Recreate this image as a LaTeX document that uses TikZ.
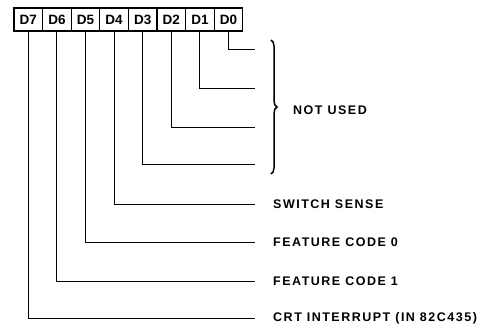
\documentclass[tikz,border=0pt]{standalone}
\usepackage{fontspec}
\setmainfont{Liberation Sans}
\newfontfamily\lblfont[LetterSpace=12]{Liberation Sans}
\usetikzlibrary{positioning,decorations.pathreplacing}

\begin{document}
\begin{tikzpicture}[
    x=1pt,y=-1pt,
    bit/.style={rectangle,draw,line width=1.2pt,minimum width=28.6pt,minimum height=23pt,inner sep=0pt,outer sep=0pt,font=\fontsize{13.5}{15}\selectfont\bfseries},
    wire/.style={line width=0.9pt},
    lbl/.style={inner sep=0pt,anchor=west,font=\fontsize{12.5}{14}\selectfont\lblfont\bfseries},
    curly/.style={line width=1.5pt,decorate,decoration={brace,amplitude=6pt}}
]
    \useasboundingbox (0,0) rectangle (488,328);

    \node[bit] (d7) at (28.3,19.5) {D7};
    \node[bit,right=0pt of d7] (d6) {D6};
    \node[bit,right=0pt of d6] (d5) {D5};
    \node[bit,right=0pt of d5] (d4) {D4};
    \node[bit,right=0pt of d4] (d3) {D3};
    \node[bit,right=0pt of d3] (d2) {D2};
    \node[bit,right=0pt of d2] (d1) {D1};
    \node[bit,right=0pt of d1] (d0) {D0};

    \coordinate (e0) at (255,49);
    \coordinate (e1) at (255,88);
    \coordinate (e2) at (255,127);
    \coordinate (e3) at (255,164);
    \coordinate (e4) at (255,204);
    \coordinate (e5) at (255,242);
    \coordinate (e6) at (255,281);
    \coordinate (e7) at (255,318);

    \draw[wire] (d0.south) |- (e0);
    \draw[wire] (d1.south) |- (e1);
    \draw[wire] (d2.south) |- (e2);
    \draw[wire] (d3.south) |- (e3);
    \draw[wire] (d4.south) |- (e4);
    \draw[wire] (d5.south) |- (e5);
    \draw[wire] (d6.south) |- (e6);
    \draw[wire] (d7.south) |- (e7);

    \coordinate (bt) at (271,40);
    \coordinate (bb) at (271,174);
    \coordinate (bm) at (277,110);
    \draw[curly] (bt) -- (bb);
    \node[lbl,right=16pt of bm] (nu) {NOT USED};

    \node[lbl,right=18pt of e4] (ss) {SWITCH SENSE};
    \node[lbl,right=18pt of e5] (fc0) {FEATURE CODE 0};
    \node[lbl,right=18pt of e6] (fc1) {FEATURE CODE 1};
    \node[lbl,right=18pt of e7] (crt) {CRT INTERRUPT (IN 82C435)};
\end{tikzpicture}
\end{document}
